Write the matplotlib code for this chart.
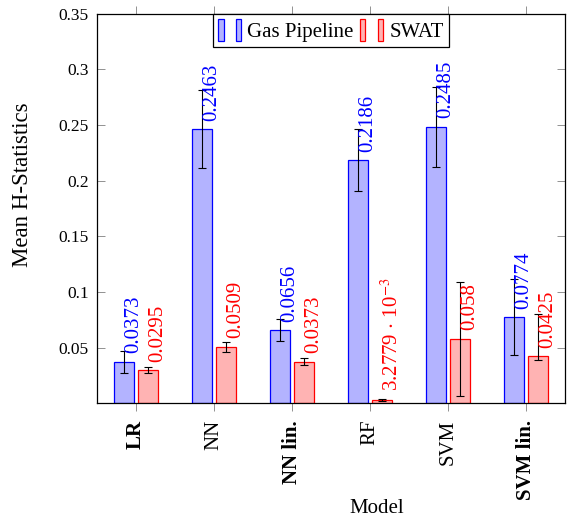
import numpy as np
import matplotlib.pyplot as plt
from matplotlib.patches import Rectangle
from matplotlib.legend_handler import HandlerTuple

plt.rcParams['font.family'] = ['Liberation Serif', 'DejaVu Serif']
plt.rcParams['mathtext.fontset'] = 'stix'

models = ['LR', 'NN', 'NN lin.', 'RF', 'SVM', 'SVM lin.']
bold_models = ['LR', 'NN lin.', 'SVM lin.']
gas = [0.0373, 0.2463, 0.0656, 0.2186, 0.2485, 0.0774]
swat = [0.0295, 0.0509, 0.0373, 3.2779e-3, 0.058, 0.0425]
gas_err = [0.010, 0.035, 0.010, 0.028, 0.036, 0.034]
swat_err_lo = [0.0027, 0.0045, 0.003, 0.001, 0.051, 0.004]
swat_err_hi = [0.0027, 0.0045, 0.003, 0.001, 0.051, 0.038]
gas_lbl = ['0.0373', '0.2463', '0.0656', '0.2186', '0.2485', '0.0774']
swat_lbl = ['0.0295', '0.0509', '0.0373', r'3.2779 $\cdot$ 10$^{-3}$', '0.058', '0.0425']

blue_fill = (0.7, 0.7, 1.0)
red_fill = (1.0, 0.7, 0.7)

x = np.arange(len(models))
w = 0.25
off = 0.154

fig = plt.figure(figsize=(5.67, 5.22), dpi=100)
ax = fig.add_axes([0.171, 0.2274, 0.8255, 0.7466])

ax.bar(x - off, gas, w, color=blue_fill, edgecolor='blue', linewidth=0.9)
ax.bar(x + off, swat, w, color=red_fill, edgecolor='red', linewidth=0.9)
ax.errorbar(x - off, gas, yerr=gas_err, fmt='none', ecolor='black',
            elinewidth=0.8, capsize=3, capthick=0.8)
ax.errorbar(x + off, swat, yerr=[swat_err_lo, swat_err_hi], fmt='none',
            ecolor='black', elinewidth=0.8, capsize=3, capthick=0.8)

for i in range(len(models)):
    ax.annotate(gas_lbl[i], (x[i] - off, gas[i]), xytext=(7.3, 6),
                textcoords='offset points', rotation=90, ha='center',
                va='bottom', color='blue', fontsize=15)
    ax.annotate(swat_lbl[i], (x[i] + off, swat[i]), xytext=(7.3, 6),
                textcoords='offset points', rotation=90, ha='center',
                va='bottom', color='red', fontsize=15)

ax.set_xlim(-0.5, 5.5)
ax.set_ylim(0, 0.35)
ax.set_yticks([0.05, 0.1, 0.15, 0.2, 0.25, 0.3, 0.35])
ax.set_yticklabels(['0.05', '0.1', '0.15', '0.2', '0.25', '0.3', '0.35'])
ax.set_xticks(x)
ax.set_xticklabels(models, rotation=90, va='top', ha='center')
for t in ax.get_xticklabels():
    if t.get_text() in bold_models:
        t.set_fontweight('bold')

ax.tick_params(axis='y', direction='in', right=True, length=6, width=0.5,
               labelsize=12.5, pad=6, color='0.4')
ax.tick_params(axis='x', direction='out', top=True, length=6, width=0.5,
               labelsize=15, pad=6, color='0.4')
for s in ax.spines.values():
    s.set_linewidth(0.9)

ax.set_xlabel('Model', fontsize=15)
ax.xaxis.set_label_coords(0.598, -0.245)
ax.set_ylabel('Mean H-Statistics', fontsize=16.5)
ax.yaxis.set_label_coords(-0.137, 0.56)

hg = (Rectangle((0, 0), 1, 1, facecolor=blue_fill, edgecolor='blue', lw=0.9),
      Rectangle((0, 0), 1, 1, facecolor=blue_fill, edgecolor='blue', lw=0.9))
hs = (Rectangle((0, 0), 1, 1, facecolor=red_fill, edgecolor='red', lw=0.9),
      Rectangle((0, 0), 1, 1, facecolor=red_fill, edgecolor='red', lw=0.9))
leg = ax.legend([hg, hs], ['Gas Pipeline', 'SWAT'], loc='upper center',
                bbox_to_anchor=(0.5, 1.0), ncol=2, frameon=True, fancybox=False,
                edgecolor='black', framealpha=1, fontsize=15,
                handler_map={tuple: HandlerTuple(ndivide=None, pad=0.6)},
                handlelength=1.1, handleheight=1.25, handletextpad=0.3,
                columnspacing=0.3, borderpad=0.25, borderaxespad=0)
leg.get_frame().set_linewidth(0.9)

fig.savefig('out.png', dpi=100)
